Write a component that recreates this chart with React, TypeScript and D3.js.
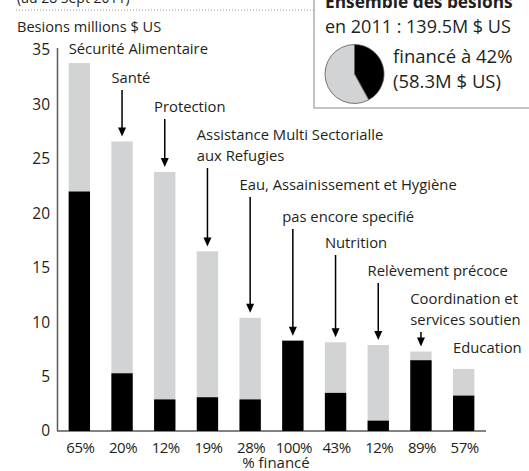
import React from "react";
import * as d3 from "d3";

const categories = [
  "Sécurité Alimentaire",
  "Santé",
  "Protection",
  "Assistance Multi Sectorialle|aux Refugies",
  "Eau, Assainissement et Hygiène",
  "pas encore specifié",
  "Nutrition",
  "Relèvement précoce",
  "Coordination et|services soutien",
  "Education",
];
const besoins = [33.8, 26.6, 23.8, 16.5, 10.4, 8.3, 8.15, 7.9, 7.3, 5.7];
const finance = [22.0, 5.3, 2.9, 3.1, 2.9, 8.3, 3.5, 0.95, 6.5, 3.25];
const pctLabels = ["65%", "20%", "12%", "19%", "28%", "100%", "43%", "12%", "89%", "57%"];
const yTicks = [0, 5, 10, 15, 20, 25, 30, 35];

// mise en page des étiquettes (ligne de base en px), pas des données
const labelBaseline = [54, 83, 112, 140, 190, 222, 248, 276, 304, 353];
const hasArrow = [false, true, true, true, true, true, true, true, true, false];

const W = 529;
const H = 471;
const FONT = "'Open Sans', sans-serif";
const TXT = "#231f20";
const GRIS = "#d1d3d4";

export default function App() {
  const x = d3
    .scaleBand<string>()
    .domain(categories)
    .range([58, 485])
    .paddingInner(0.5)
    .paddingOuter(0.25);
  const y = d3.scaleLinear().domain([0, 35]).range([431, 50]);

  const pie = d3.pie<number>().sort(null)([42, 58]);
  const arc = d3.arc<d3.PieArcDatum<number>>().innerRadius(0).outerRadius(29.5);

  return (
    <svg
      width={W}
      height={H}
      style={{ position: "fixed", top: 0, left: 0, background: "#fff" }}
      fontFamily={FONT}
    >
      {/* en-tête */}
      <text x={17} y={3} fontSize={14} fill={TXT}>(au 28 Sept 2011)</text>
      <line x1={16} x2={314} y1={10} y2={10} stroke="#999" strokeDasharray="1,2" />
      <text x={17} y={32} fontSize={14.6} fill={TXT}>Besions millions $ US</text>

      {/* encadré */}
      <rect x={314} y={-5} width={230} height={113} fill="#fff" stroke="#888" strokeWidth={1} />
      <text x={325} y={8} fontSize={17.3} fontWeight="bold" fill={TXT}>Ensemble des besions</text>
      <text x={325} y={33} fontSize={18} fill={TXT}>en 2011 : 139.5M $ US</text>
      <g transform="translate(354.5,74)">
        {pie.map((p, i) => (
          <path key={i} d={arc(p) || ""} fill={i === 0 ? "#000" : GRIS} stroke="#555" strokeWidth={0.8} />
        ))}
      </g>
      <text x={393} y={63} fontSize={18.5} fill={TXT}>financé à 42%</text>
      <text x={393} y={88} fontSize={18.5} fill={TXT}>(58.3M $ US)</text>

      {/* axe y */}
      <line x1={57.5} x2={57.5} y1={48} y2={431} stroke="#58595b" strokeWidth={1.5} />
      <line x1={57} x2={486} y1={431} y2={431} stroke="#58595b" strokeWidth={1.5} />
      {yTicks.map((t) => (
        <text key={t} x={50} y={y(t)} dy="0.35em" textAnchor="end" fontSize={15.5} fill={TXT}>
          {t}
        </text>
      ))}

      {/* barres */}
      {categories.map((c, i) => (
        <g key={c}>
          <rect x={x(c)} y={y(besoins[i])} width={x.bandwidth()} height={y(0) - y(besoins[i])} fill={GRIS} />
          <rect x={x(c)} y={y(finance[i])} width={x.bandwidth()} height={y(0) - y(finance[i])} fill="#000" />
          <text
            x={(x(c) || 0) + x.bandwidth() / 2 + 1}
            y={453}
            textAnchor="middle"
            fontSize={15}
            letterSpacing={-0.5}
            fill={TXT}
          >
            {pctLabels[i]}
          </text>
        </g>
      ))}

      {/* étiquettes + flèches */}
      {categories.map((c, i) => {
        const lines = c.split("|");
        const lx = x(c) || 0;
        const cx = lx + x.bandwidth() / 2;
        const b = labelBaseline[i];
        const lastB = b + (lines.length - 1) * 21;
        const tip = y(besoins[i]) - 5;
        return (
          <g key={"l" + c}>
            {lines.map((ln, k) => (
              <text key={k} x={lx} y={b + k * 21} fontSize={14.8} fill={TXT}>
                {ln}
              </text>
            ))}
            {hasArrow[i] && (
              <g>
                <line x1={cx} x2={cx} y1={lastB + 7} y2={tip - 6} stroke="#000" strokeWidth={1.5} />
                <path d={`M${cx - 4},${tip - 9}L${cx + 4},${tip - 9}L${cx},${tip}Z`} fill="#000" />
              </g>
            )}
          </g>
        );
      })}

      <text x={276} y={468} textAnchor="middle" fontSize={15} fill={TXT}>% financé</text>
    </svg>
  );
}
